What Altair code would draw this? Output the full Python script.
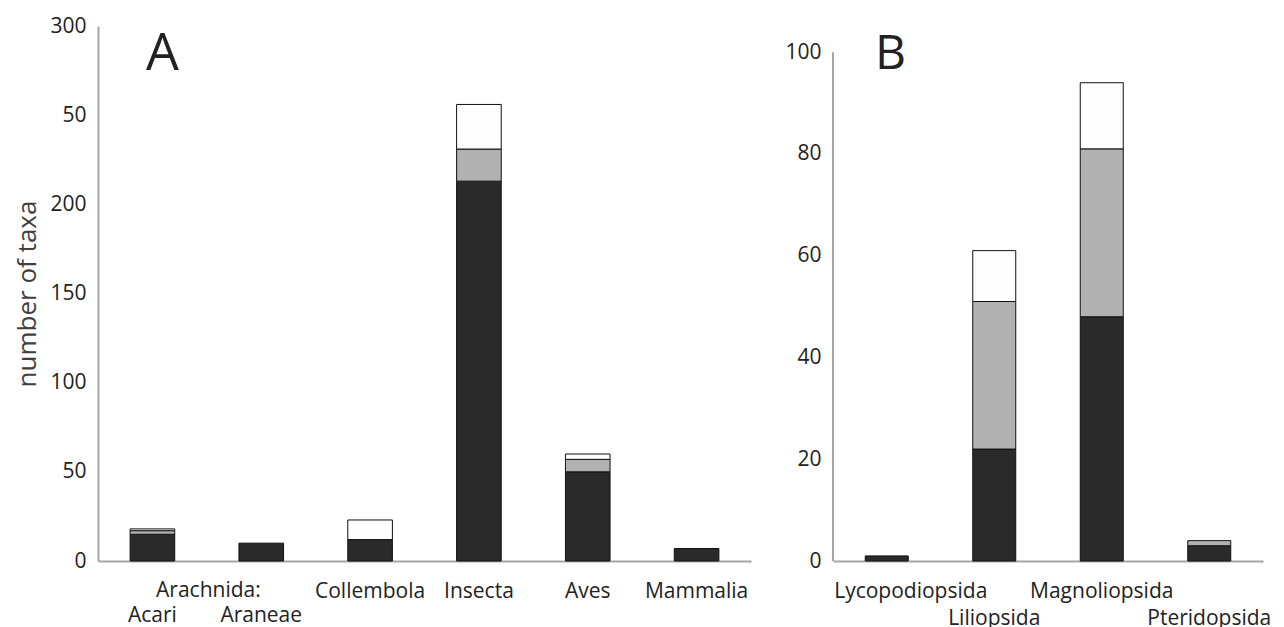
import altair as alt
import pandas as pd

# Panel A: animal groups (number of taxa per category, stacked)
groups_a = ["Acari", "Araneae", "Collembola", "Insecta", "Aves", "Mammalia"]
a_dark = [15, 10, 12, 213, 50, 7]
a_grey = [2, 0, 0, 18, 7, 0]
a_white = [1, 0, 11, 25, 3, 0]
a_ticks = [0, 50, 100, 150, 200, 250, 300]

# Panel B: plant classes
groups_b = ["Lycopodiopsida", "Liliopsida", "Magnoliopsida", "Pteridopsida"]
b_dark = [1, 22, 48, 3]
b_grey = [0, 29, 33, 1]
b_white = [0, 10, 13, 0]
b_ticks = [0, 20, 40, 60, 80, 100]

levels = ["dark", "grey", "white"]
fills = ["#2a2a2a", "#b1b1b1", "#fdfdfd"]

FONT = "Open Sans"
AXIS_GREY = "#a6a6a6"
TEXT = "#222222"
W_A, W_B, H = 653, 430, 535
LABEL_PAD = 19


def long_table(groups, *series):
    rows = []
    for gi, g in enumerate(groups):
        for rank, (lvl, vals) in enumerate(zip(levels, series)):
            if vals[gi] > 0:
                rows.append({"group": g, "level": lvl, "rank": rank, "n": vals[gi]})
    return pd.DataFrame(rows)


df_a = long_table(groups_a, a_dark, a_grey, a_white)
df_b = long_table(groups_b, b_dark, b_grey, b_white)

color = alt.Color("level:N", scale=alt.Scale(domain=levels, range=fills), legend=None)
order = alt.Order("rank:Q", sort="ascending")

# ---------- panel A ----------
xs_a = alt.Scale(domain=groups_a, paddingInner=0.59, paddingOuter=0.295)
ys_a = alt.Scale(domain=[0, 300], nice=False)

bars_a = alt.Chart(df_a).mark_bar(stroke="#111111", strokeWidth=1).encode(
    x=alt.X("group:N", scale=xs_a, title=None,
            axis=alt.Axis(labelAngle=0, labelLineHeight=24,
                          labelExpr="datum.value == 'Acari' || datum.value == 'Araneae' ? ['', datum.label] : datum.label")),
    y=alt.Y("n:Q", stack="zero", scale=ys_a,
            axis=alt.Axis(values=a_ticks, title="number of taxa",
                          labelExpr="datum.value == 250 ? '50' : datum.label")),
    color=color,
    order=order,
)

# shared heading over the two arachnid bars
arach = alt.Chart(pd.DataFrame({"group": ["Acari"], "label": ["Arachnida:"]})).mark_text(
    dx=56, baseline="top", align="center", fontSize=21, font=FONT, color=TEXT
).encode(
    x=alt.X("group:N", scale=xs_a, title=None),
    y=alt.value(H + LABEL_PAD),
    text="label:N",
)

tag_a = alt.Chart(pd.DataFrame({"t": ["A"]})).mark_text(
    align="left", baseline="alphabetic", fontSize=52, font=FONT, color=TEXT
).encode(x=alt.value(48), y=alt.value(44), text="t:N")

panel_a = alt.layer(bars_a, arach, tag_a).properties(width=W_A, height=H)

# ---------- panel B ----------
xs_b = alt.Scale(domain=groups_b, paddingInner=0.6, paddingOuter=0.3)
ys_b = alt.Scale(domain=[0, 105.15], nice=False)

bars_b = alt.Chart(df_b).mark_bar(stroke="#111111", strokeWidth=1).encode(
    x=alt.X("group:N", scale=xs_b, title=None,
            axis=alt.Axis(labelAngle=0, labelLineHeight=27,
                          labelExpr="datum.value == 'Liliopsida' || datum.value == 'Pteridopsida' ? ['', datum.label] : datum.label",
                          labelOffset={"condition": {"test": "datum.value == 'Lycopodiopsida'", "value": 24},
                                       "value": 0})),
    y=alt.Y("n:Q", stack="zero", scale=ys_b,
            axis=alt.Axis(values=b_ticks, title=None, domain=False)),
    color=color,
    order=order,
)

# vertical axis line of panel B, running from 0 to 100
yline_b = alt.Chart(pd.DataFrame({"lo": [b_ticks[0]], "hi": [b_ticks[-1]]})).mark_rule(
    color=AXIS_GREY, strokeWidth=2
).encode(
    x=alt.value(0),
    y=alt.Y("lo:Q", scale=ys_b, title=None),
    y2="hi:Q",
)

tag_b = alt.Chart(pd.DataFrame({"t": ["B"]})).mark_text(
    align="left", baseline="alphabetic", fontSize=48, font=FONT, color=TEXT
).encode(x=alt.value(42), y=alt.value(43), text="t:N")

panel_b = alt.layer(bars_b, yline_b, tag_b).properties(width=W_B, height=H)

chart = (
    alt.hconcat(panel_a, panel_b, spacing=33)
    .properties(padding={"left": 14, "top": 15, "right": 5, "bottom": 0})
    .configure_view(stroke=None)
    .configure_axis(
        domainColor=AXIS_GREY, domainWidth=2, ticks=False, grid=False,
        labelFont=FONT, labelFontSize=21, labelColor=TEXT,
        titleFont=FONT, titleFontSize=26, titleFontWeight="normal", titleColor="#404040",
    )
    .configure_axisX(labelPadding=LABEL_PAD)
    .configure_axisY(labelPadding=12, titlePadding=9)
)

chart.save("out.html", embed_options={"renderer": "svg", "actions": False})
